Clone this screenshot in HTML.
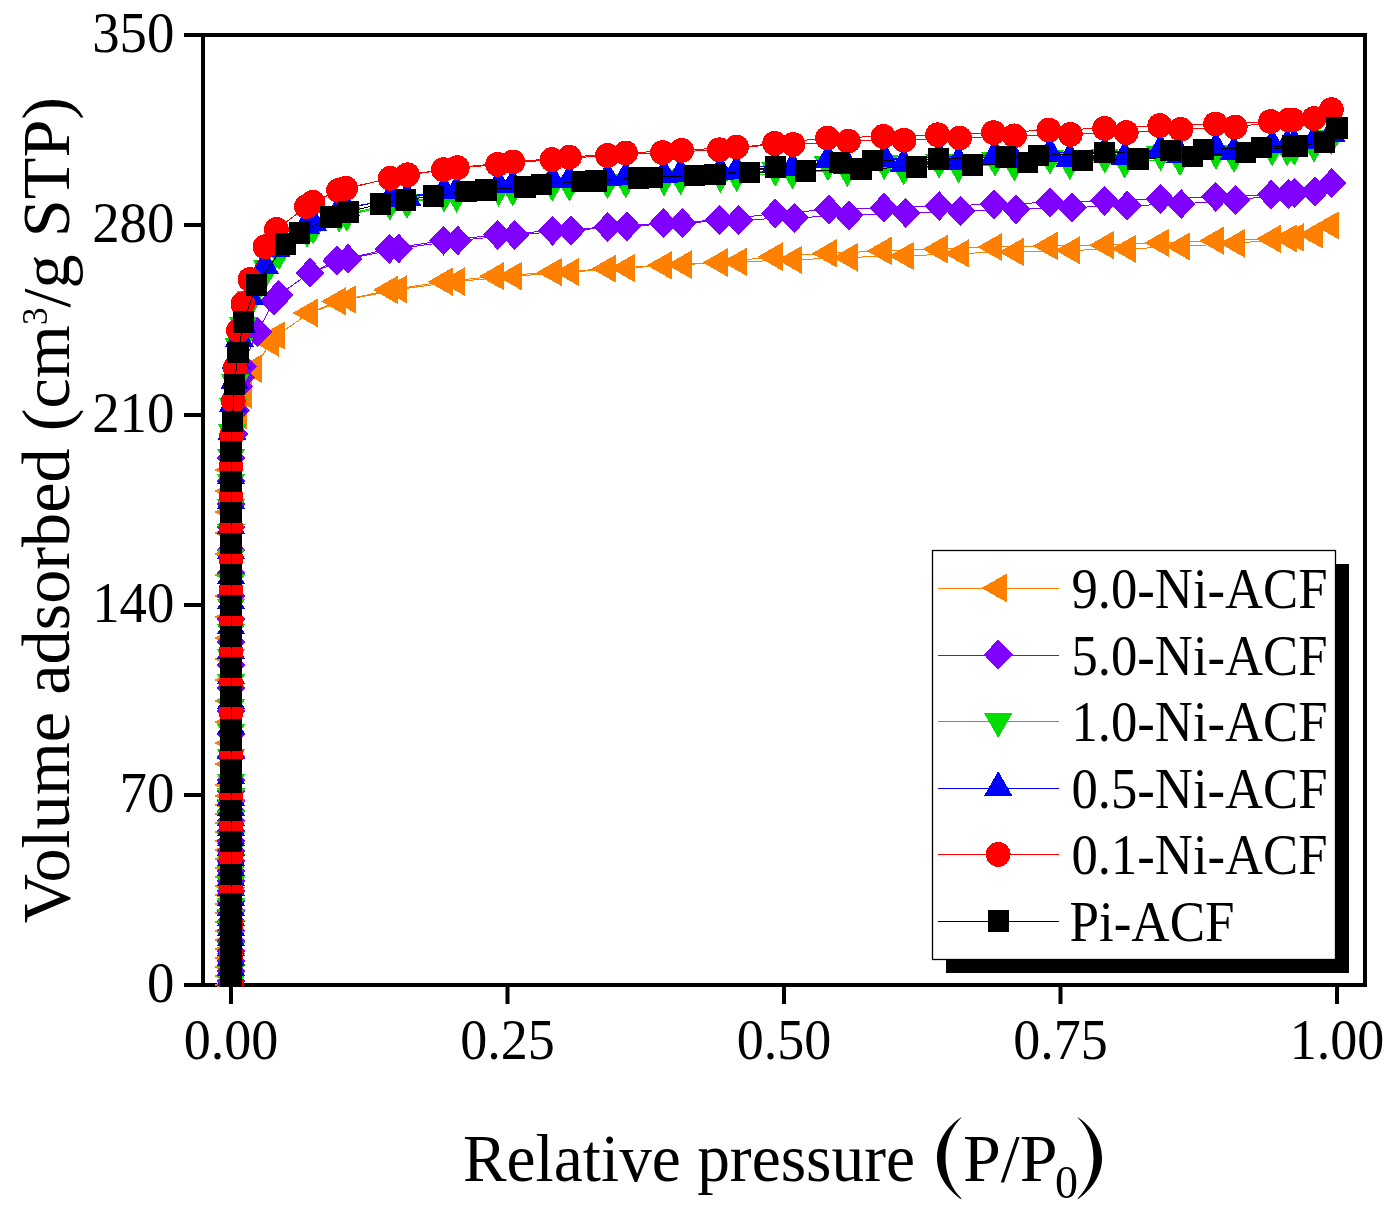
<!DOCTYPE html><html><head><meta charset="utf-8"><title>N2 isotherm</title><style>html,body{margin:0;padding:0;background:#fff;width:1395px;height:1217px;overflow:hidden}text{font-family:"Liberation Serif",serif}</style></head><body><svg width="1395" height="1217" viewBox="0 0 1395 1217" style="display:block;will-change:transform">
<rect width="1395" height="1217" fill="#fff"/>
<g fill="#000">
<rect x="201" y="33" width="4" height="954"/>
<rect x="1363" y="33" width="4" height="954"/>
<rect x="201" y="33" width="1166" height="4"/>
<rect x="201" y="983" width="1166" height="4"/>
<rect x="184" y="983" width="17" height="4"/>
<rect x="184" y="793" width="17" height="4"/>
<rect x="184" y="603" width="17" height="4"/>
<rect x="184" y="413" width="17" height="4"/>
<rect x="184" y="223" width="17" height="4"/>
<rect x="184" y="33" width="17" height="4"/>
<rect x="229.0" y="987" width="4" height="17"/>
<rect x="505.5" y="987" width="4" height="17"/>
<rect x="782.0" y="987" width="4" height="17"/>
<rect x="1058.5" y="987" width="4" height="17"/>
<rect x="1335.0" y="987" width="4" height="17"/>
</g>
<defs><clipPath id="pc"><rect x="203" y="35" width="1162" height="952"/></clipPath></defs>
<g shape-rendering="crispEdges" clip-path="url(#pc)">
<path d="M231.0 985.0L231.0 976.0L231.0 967.0L231.0 958.0L231.0 949.0L231.0 940.0L231.0 931.0L231.0 922.0L231.0 913.0L231.0 904.0L231.0 895.0L231.0 886.0L231.0 877.0L231.0 868.0L231.0 859.0L231.0 850.0L231.0 841.0L231.0 832.0L231.0 823.0L231.0 814.0L231.0 805.0L231.0 796.0L231.0 785.0L231.0 764.0L231.0 743.0L231.0 722.0L231.0 701.0L231.0 680.0L231.0 659.0L231.0 638.0L231.0 617.0L231.0 596.0L231.0 575.0L231.0 554.0L231.0 533.0L231.0 512.0L231.0 491.0L231.0 470.0L238.7 415.3L243.7 394.6L253.5 368.7L270.9 342.7L276.8 335.5L309.2 313.0L337.8 301.4L389.6 289.9L444.6 281.6L495.8 276.2L553.6 272.2L608.0 268.7L663.5 265.3L719.4 262.5L774.3 256.7L828.5 253.4L883.3 250.9L939.2 249.1L994.0 247.0L1049.3 245.9L1105.7 245.1L1160.8 242.9L1215.9 240.7L1272.7 238.8L1295.7 237.4L1314.8 234.6L1330.8 225.4" fill="none" stroke="#FF8000" stroke-width="1"/>
<path d="M309.2 313.0L347.8 299.5L398.8 289.4L456.4 281.6L513.4 276.2L570.8 272.0L626.7 268.0L683.3 264.6L738.6 261.8L794.0 259.9L849.3 257.3L905.7 256.0L960.7 253.4L1015.5 251.9L1071.9 250.3L1127.9 248.9L1181.9 246.4L1236.3 243.3L1288.8 238.4L1295.7 237.4" fill="none" stroke="#FF8000" stroke-width="1"/>
<path d="M214.3 985.0L239.3 970.8L239.3 999.2Z" fill="#FF8000"/>
<path d="M214.3 976.0L239.3 961.8L239.3 990.2Z" fill="#FF8000"/>
<path d="M214.3 967.0L239.3 952.8L239.3 981.2Z" fill="#FF8000"/>
<path d="M214.3 958.0L239.3 943.8L239.3 972.2Z" fill="#FF8000"/>
<path d="M214.3 949.0L239.3 934.8L239.3 963.2Z" fill="#FF8000"/>
<path d="M214.3 940.0L239.3 925.8L239.3 954.2Z" fill="#FF8000"/>
<path d="M214.3 931.0L239.3 916.8L239.3 945.2Z" fill="#FF8000"/>
<path d="M214.3 922.0L239.3 907.8L239.3 936.2Z" fill="#FF8000"/>
<path d="M214.3 913.0L239.3 898.8L239.3 927.2Z" fill="#FF8000"/>
<path d="M214.3 904.0L239.3 889.8L239.3 918.2Z" fill="#FF8000"/>
<path d="M214.3 895.0L239.3 880.8L239.3 909.2Z" fill="#FF8000"/>
<path d="M214.3 886.0L239.3 871.8L239.3 900.2Z" fill="#FF8000"/>
<path d="M214.3 877.0L239.3 862.8L239.3 891.2Z" fill="#FF8000"/>
<path d="M214.3 868.0L239.3 853.8L239.3 882.2Z" fill="#FF8000"/>
<path d="M214.3 859.0L239.3 844.8L239.3 873.2Z" fill="#FF8000"/>
<path d="M214.3 850.0L239.3 835.8L239.3 864.2Z" fill="#FF8000"/>
<path d="M214.3 841.0L239.3 826.8L239.3 855.2Z" fill="#FF8000"/>
<path d="M214.3 832.0L239.3 817.8L239.3 846.2Z" fill="#FF8000"/>
<path d="M214.3 823.0L239.3 808.8L239.3 837.2Z" fill="#FF8000"/>
<path d="M214.3 814.0L239.3 799.8L239.3 828.2Z" fill="#FF8000"/>
<path d="M214.3 805.0L239.3 790.8L239.3 819.2Z" fill="#FF8000"/>
<path d="M214.3 796.0L239.3 781.8L239.3 810.2Z" fill="#FF8000"/>
<path d="M214.3 785.0L239.3 770.8L239.3 799.2Z" fill="#FF8000"/>
<path d="M214.3 764.0L239.3 749.8L239.3 778.2Z" fill="#FF8000"/>
<path d="M214.3 743.0L239.3 728.8L239.3 757.2Z" fill="#FF8000"/>
<path d="M214.3 722.0L239.3 707.8L239.3 736.2Z" fill="#FF8000"/>
<path d="M214.3 701.0L239.3 686.8L239.3 715.2Z" fill="#FF8000"/>
<path d="M214.3 680.0L239.3 665.8L239.3 694.2Z" fill="#FF8000"/>
<path d="M214.3 659.0L239.3 644.8L239.3 673.2Z" fill="#FF8000"/>
<path d="M214.3 638.0L239.3 623.8L239.3 652.2Z" fill="#FF8000"/>
<path d="M214.3 617.0L239.3 602.8L239.3 631.2Z" fill="#FF8000"/>
<path d="M214.3 596.0L239.3 581.8L239.3 610.2Z" fill="#FF8000"/>
<path d="M214.3 575.0L239.3 560.8L239.3 589.2Z" fill="#FF8000"/>
<path d="M214.3 554.0L239.3 539.8L239.3 568.2Z" fill="#FF8000"/>
<path d="M214.3 533.0L239.3 518.8L239.3 547.2Z" fill="#FF8000"/>
<path d="M214.3 512.0L239.3 497.8L239.3 526.2Z" fill="#FF8000"/>
<path d="M214.3 491.0L239.3 476.8L239.3 505.2Z" fill="#FF8000"/>
<path d="M214.3 470.0L239.3 455.8L239.3 484.2Z" fill="#FF8000"/>
<path d="M222.0 415.3L247.0 401.1L247.0 429.6Z" fill="#FF8000"/>
<path d="M227.0 394.6L252.0 380.4L252.0 408.9Z" fill="#FF8000"/>
<path d="M236.8 368.7L261.8 354.4L261.8 382.9Z" fill="#FF8000"/>
<path d="M254.2 342.7L279.2 328.4L279.2 356.9Z" fill="#FF8000"/>
<path d="M260.1 335.5L285.1 321.2L285.1 349.8Z" fill="#FF8000"/>
<path d="M292.5 313.0L317.5 298.8L317.5 327.2Z" fill="#FF8000"/>
<path d="M321.1 301.4L346.1 287.1L346.1 315.6Z" fill="#FF8000"/>
<path d="M331.1 299.5L356.1 285.2L356.1 313.8Z" fill="#FF8000"/>
<path d="M372.9 289.9L397.9 275.6L397.9 304.1Z" fill="#FF8000"/>
<path d="M382.1 289.4L407.1 275.1L407.1 303.6Z" fill="#FF8000"/>
<path d="M427.9 281.6L452.9 267.4L452.9 295.9Z" fill="#FF8000"/>
<path d="M439.7 281.6L464.7 267.4L464.7 295.9Z" fill="#FF8000"/>
<path d="M479.1 276.2L504.1 261.9L504.1 290.4Z" fill="#FF8000"/>
<path d="M496.7 276.2L521.7 261.9L521.7 290.4Z" fill="#FF8000"/>
<path d="M536.9 272.2L561.9 257.9L561.9 286.4Z" fill="#FF8000"/>
<path d="M554.1 272.0L579.1 257.8L579.1 286.2Z" fill="#FF8000"/>
<path d="M591.3 268.7L616.3 254.4L616.3 282.9Z" fill="#FF8000"/>
<path d="M610.0 268.0L635.0 253.8L635.0 282.2Z" fill="#FF8000"/>
<path d="M646.8 265.3L671.8 251.1L671.8 279.6Z" fill="#FF8000"/>
<path d="M666.6 264.6L691.6 250.4L691.6 278.9Z" fill="#FF8000"/>
<path d="M702.7 262.5L727.7 248.2L727.7 276.8Z" fill="#FF8000"/>
<path d="M721.9 261.8L746.9 247.6L746.9 276.1Z" fill="#FF8000"/>
<path d="M757.6 256.7L782.6 242.4L782.6 270.9Z" fill="#FF8000"/>
<path d="M777.3 259.9L802.3 245.6L802.3 274.1Z" fill="#FF8000"/>
<path d="M811.8 253.4L836.8 239.2L836.8 267.6Z" fill="#FF8000"/>
<path d="M832.6 257.3L857.6 243.1L857.6 271.6Z" fill="#FF8000"/>
<path d="M866.6 250.9L891.6 236.7L891.6 265.1Z" fill="#FF8000"/>
<path d="M889.0 256.0L914.0 241.8L914.0 270.2Z" fill="#FF8000"/>
<path d="M922.5 249.1L947.5 234.8L947.5 263.4Z" fill="#FF8000"/>
<path d="M944.0 253.4L969.0 239.2L969.0 267.6Z" fill="#FF8000"/>
<path d="M977.3 247.0L1002.3 232.8L1002.3 261.2Z" fill="#FF8000"/>
<path d="M998.8 251.9L1023.8 237.7L1023.8 266.1Z" fill="#FF8000"/>
<path d="M1032.6 245.9L1057.6 231.7L1057.6 260.1Z" fill="#FF8000"/>
<path d="M1055.2 250.3L1080.2 236.1L1080.2 264.6Z" fill="#FF8000"/>
<path d="M1089.0 245.1L1114.0 230.8L1114.0 259.4Z" fill="#FF8000"/>
<path d="M1111.2 248.9L1136.2 234.7L1136.2 263.1Z" fill="#FF8000"/>
<path d="M1144.1 242.9L1169.1 228.7L1169.1 257.1Z" fill="#FF8000"/>
<path d="M1165.2 246.4L1190.2 232.2L1190.2 260.6Z" fill="#FF8000"/>
<path d="M1199.2 240.7L1224.2 226.4L1224.2 254.9Z" fill="#FF8000"/>
<path d="M1219.6 243.3L1244.6 229.1L1244.6 257.6Z" fill="#FF8000"/>
<path d="M1256.0 238.8L1281.0 224.6L1281.0 253.1Z" fill="#FF8000"/>
<path d="M1272.1 238.4L1297.1 224.2L1297.1 252.7Z" fill="#FF8000"/>
<path d="M1279.0 237.4L1304.0 223.2L1304.0 251.7Z" fill="#FF8000"/>
<path d="M1298.1 234.6L1323.1 220.3L1323.1 248.8Z" fill="#FF8000"/>
<path d="M1314.1 225.4L1339.1 211.2L1339.1 239.7Z" fill="#FF8000"/>
<path d="M231.0 981.0L231.0 971.0L231.0 961.0L231.0 951.0L231.0 941.0L231.0 931.0L231.0 921.0L231.0 911.0L231.0 901.0L231.0 891.0L231.0 881.0L231.0 871.0L231.0 861.0L231.0 851.0L231.0 841.0L231.0 831.0L231.0 821.0L231.0 811.0L231.0 801.0L231.0 791.0L231.0 780.0L231.0 757.0L231.0 734.0L231.0 711.0L231.0 688.0L231.0 665.0L231.0 642.0L231.0 619.0L231.0 596.0L231.0 573.0L231.0 550.0L231.0 527.0L231.0 504.0L231.0 481.0L231.0 458.0L233.5 434.0L235.5 410.4L238.4 386.7L240.4 377.3L242.4 366.5L257.5 332.0L274.0 300.7L278.9 294.9L310.0 272.8L336.9 260.7L389.2 248.9L443.5 240.5L497.7 234.8L552.5 230.6L607.8 227.0L663.4 223.2L719.4 220.0L775.3 213.5L828.8 209.6L884.0 207.8L939.1 206.0L994.0 204.3L1049.9 202.4L1104.5 200.7L1160.3 198.9L1215.6 196.7L1271.3 194.6L1294.7 193.1L1315.0 191.4L1331.7 183.2" fill="none" stroke="#8000FF" stroke-width="1"/>
<path d="M310.0 272.8L348.0 258.9L398.6 248.5L457.6 240.5L514.8 235.0L571.0 230.4L626.8 226.4L682.3 223.0L738.7 220.0L794.4 217.8L849.0 215.4L905.8 212.9L960.6 211.0L1016.0 209.2L1072.0 207.5L1127.2 205.7L1181.1 204.0L1235.6 200.0L1288.7 194.0L1294.7 193.1" fill="none" stroke="#8000FF" stroke-width="1"/>
<path d="M231.0 966.0L245.5 981.0L231.0 996.0L216.5 981.0Z" fill="#8000FF"/>
<path d="M231.0 956.0L245.5 971.0L231.0 986.0L216.5 971.0Z" fill="#8000FF"/>
<path d="M231.0 946.0L245.5 961.0L231.0 976.0L216.5 961.0Z" fill="#8000FF"/>
<path d="M231.0 936.0L245.5 951.0L231.0 966.0L216.5 951.0Z" fill="#8000FF"/>
<path d="M231.0 926.0L245.5 941.0L231.0 956.0L216.5 941.0Z" fill="#8000FF"/>
<path d="M231.0 916.0L245.5 931.0L231.0 946.0L216.5 931.0Z" fill="#8000FF"/>
<path d="M231.0 906.0L245.5 921.0L231.0 936.0L216.5 921.0Z" fill="#8000FF"/>
<path d="M231.0 896.0L245.5 911.0L231.0 926.0L216.5 911.0Z" fill="#8000FF"/>
<path d="M231.0 886.0L245.5 901.0L231.0 916.0L216.5 901.0Z" fill="#8000FF"/>
<path d="M231.0 876.0L245.5 891.0L231.0 906.0L216.5 891.0Z" fill="#8000FF"/>
<path d="M231.0 866.0L245.5 881.0L231.0 896.0L216.5 881.0Z" fill="#8000FF"/>
<path d="M231.0 856.0L245.5 871.0L231.0 886.0L216.5 871.0Z" fill="#8000FF"/>
<path d="M231.0 846.0L245.5 861.0L231.0 876.0L216.5 861.0Z" fill="#8000FF"/>
<path d="M231.0 836.0L245.5 851.0L231.0 866.0L216.5 851.0Z" fill="#8000FF"/>
<path d="M231.0 826.0L245.5 841.0L231.0 856.0L216.5 841.0Z" fill="#8000FF"/>
<path d="M231.0 816.0L245.5 831.0L231.0 846.0L216.5 831.0Z" fill="#8000FF"/>
<path d="M231.0 806.0L245.5 821.0L231.0 836.0L216.5 821.0Z" fill="#8000FF"/>
<path d="M231.0 796.0L245.5 811.0L231.0 826.0L216.5 811.0Z" fill="#8000FF"/>
<path d="M231.0 786.0L245.5 801.0L231.0 816.0L216.5 801.0Z" fill="#8000FF"/>
<path d="M231.0 776.0L245.5 791.0L231.0 806.0L216.5 791.0Z" fill="#8000FF"/>
<path d="M231.0 765.0L245.5 780.0L231.0 795.0L216.5 780.0Z" fill="#8000FF"/>
<path d="M231.0 742.0L245.5 757.0L231.0 772.0L216.5 757.0Z" fill="#8000FF"/>
<path d="M231.0 719.0L245.5 734.0L231.0 749.0L216.5 734.0Z" fill="#8000FF"/>
<path d="M231.0 696.0L245.5 711.0L231.0 726.0L216.5 711.0Z" fill="#8000FF"/>
<path d="M231.0 673.0L245.5 688.0L231.0 703.0L216.5 688.0Z" fill="#8000FF"/>
<path d="M231.0 650.0L245.5 665.0L231.0 680.0L216.5 665.0Z" fill="#8000FF"/>
<path d="M231.0 627.0L245.5 642.0L231.0 657.0L216.5 642.0Z" fill="#8000FF"/>
<path d="M231.0 604.0L245.5 619.0L231.0 634.0L216.5 619.0Z" fill="#8000FF"/>
<path d="M231.0 581.0L245.5 596.0L231.0 611.0L216.5 596.0Z" fill="#8000FF"/>
<path d="M231.0 558.0L245.5 573.0L231.0 588.0L216.5 573.0Z" fill="#8000FF"/>
<path d="M231.0 535.0L245.5 550.0L231.0 565.0L216.5 550.0Z" fill="#8000FF"/>
<path d="M231.0 512.0L245.5 527.0L231.0 542.0L216.5 527.0Z" fill="#8000FF"/>
<path d="M231.0 489.0L245.5 504.0L231.0 519.0L216.5 504.0Z" fill="#8000FF"/>
<path d="M231.0 466.0L245.5 481.0L231.0 496.0L216.5 481.0Z" fill="#8000FF"/>
<path d="M231.0 443.0L245.5 458.0L231.0 473.0L216.5 458.0Z" fill="#8000FF"/>
<path d="M233.5 419.0L248.0 434.0L233.5 449.0L219.0 434.0Z" fill="#8000FF"/>
<path d="M235.5 395.4L250.0 410.4L235.5 425.4L221.0 410.4Z" fill="#8000FF"/>
<path d="M238.4 371.7L252.9 386.7L238.4 401.7L223.9 386.7Z" fill="#8000FF"/>
<path d="M240.4 362.3L254.9 377.3L240.4 392.3L225.9 377.3Z" fill="#8000FF"/>
<path d="M242.4 351.5L256.9 366.5L242.4 381.5L227.9 366.5Z" fill="#8000FF"/>
<path d="M257.5 317.0L272.0 332.0L257.5 347.0L243.0 332.0Z" fill="#8000FF"/>
<path d="M274.0 285.7L288.5 300.7L274.0 315.7L259.5 300.7Z" fill="#8000FF"/>
<path d="M278.9 279.9L293.4 294.9L278.9 309.9L264.4 294.9Z" fill="#8000FF"/>
<path d="M310.0 257.8L324.5 272.8L310.0 287.8L295.5 272.8Z" fill="#8000FF"/>
<path d="M336.9 245.7L351.4 260.7L336.9 275.7L322.4 260.7Z" fill="#8000FF"/>
<path d="M348.0 243.9L362.5 258.9L348.0 273.9L333.5 258.9Z" fill="#8000FF"/>
<path d="M389.2 233.9L403.7 248.9L389.2 263.9L374.7 248.9Z" fill="#8000FF"/>
<path d="M398.6 233.5L413.1 248.5L398.6 263.5L384.1 248.5Z" fill="#8000FF"/>
<path d="M443.5 225.5L458.0 240.5L443.5 255.5L429.0 240.5Z" fill="#8000FF"/>
<path d="M457.6 225.5L472.1 240.5L457.6 255.5L443.1 240.5Z" fill="#8000FF"/>
<path d="M497.7 219.8L512.2 234.8L497.7 249.8L483.2 234.8Z" fill="#8000FF"/>
<path d="M514.8 220.0L529.3 235.0L514.8 250.0L500.3 235.0Z" fill="#8000FF"/>
<path d="M552.5 215.6L567.0 230.6L552.5 245.6L538.0 230.6Z" fill="#8000FF"/>
<path d="M571.0 215.4L585.5 230.4L571.0 245.4L556.5 230.4Z" fill="#8000FF"/>
<path d="M607.8 212.0L622.3 227.0L607.8 242.0L593.3 227.0Z" fill="#8000FF"/>
<path d="M626.8 211.4L641.3 226.4L626.8 241.4L612.3 226.4Z" fill="#8000FF"/>
<path d="M663.4 208.2L677.9 223.2L663.4 238.2L648.9 223.2Z" fill="#8000FF"/>
<path d="M682.3 208.0L696.8 223.0L682.3 238.0L667.8 223.0Z" fill="#8000FF"/>
<path d="M719.4 205.0L733.9 220.0L719.4 235.0L704.9 220.0Z" fill="#8000FF"/>
<path d="M738.7 205.0L753.2 220.0L738.7 235.0L724.2 220.0Z" fill="#8000FF"/>
<path d="M775.3 198.5L789.8 213.5L775.3 228.5L760.8 213.5Z" fill="#8000FF"/>
<path d="M794.4 202.8L808.9 217.8L794.4 232.8L779.9 217.8Z" fill="#8000FF"/>
<path d="M828.8 194.6L843.3 209.6L828.8 224.6L814.3 209.6Z" fill="#8000FF"/>
<path d="M849.0 200.4L863.5 215.4L849.0 230.4L834.5 215.4Z" fill="#8000FF"/>
<path d="M884.0 192.8L898.5 207.8L884.0 222.8L869.5 207.8Z" fill="#8000FF"/>
<path d="M905.8 197.9L920.3 212.9L905.8 227.9L891.3 212.9Z" fill="#8000FF"/>
<path d="M939.1 191.0L953.6 206.0L939.1 221.0L924.6 206.0Z" fill="#8000FF"/>
<path d="M960.6 196.0L975.1 211.0L960.6 226.0L946.1 211.0Z" fill="#8000FF"/>
<path d="M994.0 189.3L1008.5 204.3L994.0 219.3L979.5 204.3Z" fill="#8000FF"/>
<path d="M1016.0 194.2L1030.5 209.2L1016.0 224.2L1001.5 209.2Z" fill="#8000FF"/>
<path d="M1049.9 187.4L1064.4 202.4L1049.9 217.4L1035.4 202.4Z" fill="#8000FF"/>
<path d="M1072.0 192.5L1086.5 207.5L1072.0 222.5L1057.5 207.5Z" fill="#8000FF"/>
<path d="M1104.5 185.7L1119.0 200.7L1104.5 215.7L1090.0 200.7Z" fill="#8000FF"/>
<path d="M1127.2 190.7L1141.7 205.7L1127.2 220.7L1112.7 205.7Z" fill="#8000FF"/>
<path d="M1160.3 183.9L1174.8 198.9L1160.3 213.9L1145.8 198.9Z" fill="#8000FF"/>
<path d="M1181.1 189.0L1195.6 204.0L1181.1 219.0L1166.6 204.0Z" fill="#8000FF"/>
<path d="M1215.6 181.7L1230.1 196.7L1215.6 211.7L1201.1 196.7Z" fill="#8000FF"/>
<path d="M1235.6 185.0L1250.1 200.0L1235.6 215.0L1221.1 200.0Z" fill="#8000FF"/>
<path d="M1271.3 179.6L1285.8 194.6L1271.3 209.6L1256.8 194.6Z" fill="#8000FF"/>
<path d="M1288.7 179.0L1303.2 194.0L1288.7 209.0L1274.2 194.0Z" fill="#8000FF"/>
<path d="M1294.7 178.1L1309.2 193.1L1294.7 208.1L1280.2 193.1Z" fill="#8000FF"/>
<path d="M1315.0 176.4L1329.5 191.4L1315.0 206.4L1300.5 191.4Z" fill="#8000FF"/>
<path d="M1331.7 168.2L1346.2 183.2L1331.7 198.2L1317.2 183.2Z" fill="#8000FF"/>
<path d="M231.0 983.0L231.0 972.0L231.0 961.0L231.0 950.0L231.0 939.0L231.0 928.0L231.0 917.0L231.0 906.0L231.0 895.0L231.0 884.0L231.0 873.0L231.0 862.0L231.0 851.0L231.0 840.0L231.0 829.0L231.0 818.0L231.0 807.0L231.0 796.0L231.0 782.0L231.0 757.0L231.0 732.0L231.0 707.0L231.0 682.0L231.0 657.0L231.0 632.0L231.0 607.0L231.0 582.0L231.0 557.0L231.0 532.0L231.0 507.0L231.0 482.0L231.0 457.0L232.0 432.5L233.2 406.3L235.2 382.7L238.8 346.7L243.0 325.3L246.0 310.0L250.8 299.3L260.0 282.3L267.0 268.3L279.1 253.4L307.0 231.2L313.2 227.9L339.2 216.1L389.9 204.0L444.0 196.0L498.5 189.9L552.3 185.0L607.5 182.5L664.0 179.7L720.4 176.5L775.3 170.0L828.0 164.6L884.3 163.4L939.1 161.9L995.0 160.2L1049.9 158.0L1104.8 156.9L1160.6 154.6L1215.9 153.1L1272.2 149.8L1294.3 149.0L1314.0 145.8L1331.4 138.7" fill="none" stroke="#00DD00" stroke-width="1"/>
<path d="M313.2 227.9L346.7 215.1L407.0 202.3L456.5 196.0L512.8 189.9L569.4 185.0L625.8 181.8L680.6 178.6L736.6 175.4L792.5 172.8L847.3 170.4L903.7 168.8L958.5 166.6L1014.4 164.9L1069.7 163.4L1124.7 161.9L1180.0 159.5L1234.0 156.3L1287.2 149.8L1294.3 149.0" fill="none" stroke="#00DD00" stroke-width="1"/>
<path d="M216.8 974.7L245.2 974.7L231.0 999.7Z" fill="#00DD00"/>
<path d="M216.8 963.7L245.2 963.7L231.0 988.7Z" fill="#00DD00"/>
<path d="M216.8 952.7L245.2 952.7L231.0 977.7Z" fill="#00DD00"/>
<path d="M216.8 941.7L245.2 941.7L231.0 966.7Z" fill="#00DD00"/>
<path d="M216.8 930.7L245.2 930.7L231.0 955.7Z" fill="#00DD00"/>
<path d="M216.8 919.7L245.2 919.7L231.0 944.7Z" fill="#00DD00"/>
<path d="M216.8 908.7L245.2 908.7L231.0 933.7Z" fill="#00DD00"/>
<path d="M216.8 897.7L245.2 897.7L231.0 922.7Z" fill="#00DD00"/>
<path d="M216.8 886.7L245.2 886.7L231.0 911.7Z" fill="#00DD00"/>
<path d="M216.8 875.7L245.2 875.7L231.0 900.7Z" fill="#00DD00"/>
<path d="M216.8 864.7L245.2 864.7L231.0 889.7Z" fill="#00DD00"/>
<path d="M216.8 853.7L245.2 853.7L231.0 878.7Z" fill="#00DD00"/>
<path d="M216.8 842.7L245.2 842.7L231.0 867.7Z" fill="#00DD00"/>
<path d="M216.8 831.7L245.2 831.7L231.0 856.7Z" fill="#00DD00"/>
<path d="M216.8 820.7L245.2 820.7L231.0 845.7Z" fill="#00DD00"/>
<path d="M216.8 809.7L245.2 809.7L231.0 834.7Z" fill="#00DD00"/>
<path d="M216.8 798.7L245.2 798.7L231.0 823.7Z" fill="#00DD00"/>
<path d="M216.8 787.7L245.2 787.7L231.0 812.7Z" fill="#00DD00"/>
<path d="M216.8 773.7L245.2 773.7L231.0 798.7Z" fill="#00DD00"/>
<path d="M216.8 748.7L245.2 748.7L231.0 773.7Z" fill="#00DD00"/>
<path d="M216.8 723.7L245.2 723.7L231.0 748.7Z" fill="#00DD00"/>
<path d="M216.8 698.7L245.2 698.7L231.0 723.7Z" fill="#00DD00"/>
<path d="M216.8 673.7L245.2 673.7L231.0 698.7Z" fill="#00DD00"/>
<path d="M216.8 648.7L245.2 648.7L231.0 673.7Z" fill="#00DD00"/>
<path d="M216.8 623.7L245.2 623.7L231.0 648.7Z" fill="#00DD00"/>
<path d="M216.8 598.7L245.2 598.7L231.0 623.7Z" fill="#00DD00"/>
<path d="M216.8 573.7L245.2 573.7L231.0 598.7Z" fill="#00DD00"/>
<path d="M216.8 548.7L245.2 548.7L231.0 573.7Z" fill="#00DD00"/>
<path d="M216.8 523.7L245.2 523.7L231.0 548.7Z" fill="#00DD00"/>
<path d="M216.8 498.7L245.2 498.7L231.0 523.7Z" fill="#00DD00"/>
<path d="M216.8 473.7L245.2 473.7L231.0 498.7Z" fill="#00DD00"/>
<path d="M216.8 448.7L245.2 448.7L231.0 473.7Z" fill="#00DD00"/>
<path d="M217.8 424.2L246.2 424.2L232.0 449.2Z" fill="#00DD00"/>
<path d="M218.9 398.0L247.4 398.0L233.2 423.0Z" fill="#00DD00"/>
<path d="M220.9 374.4L249.4 374.4L235.2 399.4Z" fill="#00DD00"/>
<path d="M224.6 338.4L253.1 338.4L238.8 363.4Z" fill="#00DD00"/>
<path d="M228.8 317.0L257.2 317.0L243.0 342.0Z" fill="#00DD00"/>
<path d="M231.8 301.7L260.2 301.7L246.0 326.7Z" fill="#00DD00"/>
<path d="M236.6 291.0L265.1 291.0L250.8 316.0Z" fill="#00DD00"/>
<path d="M245.8 274.0L274.2 274.0L260.0 299.0Z" fill="#00DD00"/>
<path d="M252.8 260.0L281.2 260.0L267.0 285.0Z" fill="#00DD00"/>
<path d="M264.9 245.1L293.4 245.1L279.1 270.1Z" fill="#00DD00"/>
<path d="M292.8 222.9L321.2 222.9L307.0 247.9Z" fill="#00DD00"/>
<path d="M298.9 219.6L327.4 219.6L313.2 244.6Z" fill="#00DD00"/>
<path d="M324.9 207.8L353.4 207.8L339.2 232.8Z" fill="#00DD00"/>
<path d="M332.4 206.8L360.9 206.8L346.7 231.8Z" fill="#00DD00"/>
<path d="M375.6 195.7L404.1 195.7L389.9 220.7Z" fill="#00DD00"/>
<path d="M392.8 194.0L421.2 194.0L407.0 219.0Z" fill="#00DD00"/>
<path d="M429.8 187.7L458.2 187.7L444.0 212.7Z" fill="#00DD00"/>
<path d="M442.2 187.7L470.8 187.7L456.5 212.7Z" fill="#00DD00"/>
<path d="M484.2 181.6L512.8 181.6L498.5 206.6Z" fill="#00DD00"/>
<path d="M498.5 181.6L527.0 181.6L512.8 206.6Z" fill="#00DD00"/>
<path d="M538.0 176.7L566.5 176.7L552.3 201.7Z" fill="#00DD00"/>
<path d="M555.1 176.7L583.6 176.7L569.4 201.7Z" fill="#00DD00"/>
<path d="M593.2 174.2L621.8 174.2L607.5 199.2Z" fill="#00DD00"/>
<path d="M611.5 173.5L640.0 173.5L625.8 198.5Z" fill="#00DD00"/>
<path d="M649.8 171.4L678.2 171.4L664.0 196.4Z" fill="#00DD00"/>
<path d="M666.4 170.3L694.9 170.3L680.6 195.3Z" fill="#00DD00"/>
<path d="M706.1 168.2L734.6 168.2L720.4 193.2Z" fill="#00DD00"/>
<path d="M722.4 167.1L750.9 167.1L736.6 192.1Z" fill="#00DD00"/>
<path d="M761.0 161.7L789.5 161.7L775.3 186.7Z" fill="#00DD00"/>
<path d="M778.2 164.5L806.8 164.5L792.5 189.5Z" fill="#00DD00"/>
<path d="M813.8 156.3L842.2 156.3L828.0 181.3Z" fill="#00DD00"/>
<path d="M833.0 162.1L861.5 162.1L847.3 187.1Z" fill="#00DD00"/>
<path d="M870.0 155.1L898.5 155.1L884.3 180.1Z" fill="#00DD00"/>
<path d="M889.5 160.5L918.0 160.5L903.7 185.5Z" fill="#00DD00"/>
<path d="M924.9 153.6L953.4 153.6L939.1 178.6Z" fill="#00DD00"/>
<path d="M944.2 158.3L972.8 158.3L958.5 183.3Z" fill="#00DD00"/>
<path d="M980.8 151.9L1009.2 151.9L995.0 176.9Z" fill="#00DD00"/>
<path d="M1000.1 156.6L1028.7 156.6L1014.4 181.6Z" fill="#00DD00"/>
<path d="M1035.7 149.7L1064.2 149.7L1049.9 174.7Z" fill="#00DD00"/>
<path d="M1055.5 155.1L1084.0 155.1L1069.7 180.1Z" fill="#00DD00"/>
<path d="M1090.5 148.6L1119.0 148.6L1104.8 173.6Z" fill="#00DD00"/>
<path d="M1110.5 153.6L1139.0 153.6L1124.7 178.6Z" fill="#00DD00"/>
<path d="M1146.3 146.3L1174.8 146.3L1160.6 171.3Z" fill="#00DD00"/>
<path d="M1165.8 151.2L1194.2 151.2L1180.0 176.2Z" fill="#00DD00"/>
<path d="M1201.7 144.8L1230.2 144.8L1215.9 169.8Z" fill="#00DD00"/>
<path d="M1219.8 148.0L1248.2 148.0L1234.0 173.0Z" fill="#00DD00"/>
<path d="M1258.0 141.5L1286.5 141.5L1272.2 166.5Z" fill="#00DD00"/>
<path d="M1273.0 141.5L1301.5 141.5L1287.2 166.5Z" fill="#00DD00"/>
<path d="M1280.0 140.7L1308.5 140.7L1294.3 165.7Z" fill="#00DD00"/>
<path d="M1299.8 137.5L1328.2 137.5L1314.0 162.5Z" fill="#00DD00"/>
<path d="M1317.2 130.4L1345.7 130.4L1331.4 155.4Z" fill="#00DD00"/>
<path d="M231.0 978.0L231.0 968.0L231.0 958.0L231.0 948.0L231.0 938.0L231.0 928.0L231.0 918.0L231.0 908.0L231.0 898.0L231.0 888.0L231.0 878.0L231.0 868.0L231.0 858.0L231.0 848.0L231.0 838.0L231.0 828.0L231.0 818.0L231.0 808.0L231.0 798.0L231.0 776.0L231.0 751.0L231.0 726.0L231.0 701.0L231.0 676.0L231.0 651.0L231.0 626.0L231.0 601.0L231.0 576.0L231.0 551.0L231.0 526.0L231.0 501.0L231.0 476.0L232.0 431.2L233.0 403.6L234.5 380.9L236.0 360.2L239.3 338.3L242.0 324.5L250.0 297.0L264.7 265.5L276.6 249.0L306.0 225.5L313.0 222.5L339.0 210.5L389.9 199.0L444.0 191.0L498.5 184.9L552.3 180.0L607.5 177.5L664.0 174.7L720.4 171.5L775.3 165.0L828.0 159.6L884.3 158.4L939.1 156.9L995.0 155.2L1049.9 153.0L1104.8 151.9L1160.6 149.6L1215.9 148.1L1272.2 144.8L1294.3 144.0L1314.0 140.8L1331.4 133.7" fill="none" stroke="#0000FF" stroke-width="1"/>
<path d="M313.0 222.5L346.0 207.5L407.0 197.3L456.5 191.0L512.8 184.9L569.4 180.0L625.8 176.8L680.6 173.6L736.6 170.4L792.5 167.8L847.3 165.4L903.7 163.8L958.5 161.6L1014.4 159.9L1069.7 158.4L1124.7 156.9L1180.0 154.5L1234.0 151.3L1287.2 144.8L1294.3 144.0" fill="none" stroke="#0000FF" stroke-width="1"/>
<path d="M216.8 986.3L245.2 986.3L231.0 961.3Z" fill="#0000FF"/>
<path d="M216.8 976.3L245.2 976.3L231.0 951.3Z" fill="#0000FF"/>
<path d="M216.8 966.3L245.2 966.3L231.0 941.3Z" fill="#0000FF"/>
<path d="M216.8 956.3L245.2 956.3L231.0 931.3Z" fill="#0000FF"/>
<path d="M216.8 946.3L245.2 946.3L231.0 921.3Z" fill="#0000FF"/>
<path d="M216.8 936.3L245.2 936.3L231.0 911.3Z" fill="#0000FF"/>
<path d="M216.8 926.3L245.2 926.3L231.0 901.3Z" fill="#0000FF"/>
<path d="M216.8 916.3L245.2 916.3L231.0 891.3Z" fill="#0000FF"/>
<path d="M216.8 906.3L245.2 906.3L231.0 881.3Z" fill="#0000FF"/>
<path d="M216.8 896.3L245.2 896.3L231.0 871.3Z" fill="#0000FF"/>
<path d="M216.8 886.3L245.2 886.3L231.0 861.3Z" fill="#0000FF"/>
<path d="M216.8 876.3L245.2 876.3L231.0 851.3Z" fill="#0000FF"/>
<path d="M216.8 866.3L245.2 866.3L231.0 841.3Z" fill="#0000FF"/>
<path d="M216.8 856.3L245.2 856.3L231.0 831.3Z" fill="#0000FF"/>
<path d="M216.8 846.3L245.2 846.3L231.0 821.3Z" fill="#0000FF"/>
<path d="M216.8 836.3L245.2 836.3L231.0 811.3Z" fill="#0000FF"/>
<path d="M216.8 826.3L245.2 826.3L231.0 801.3Z" fill="#0000FF"/>
<path d="M216.8 816.3L245.2 816.3L231.0 791.3Z" fill="#0000FF"/>
<path d="M216.8 806.3L245.2 806.3L231.0 781.3Z" fill="#0000FF"/>
<path d="M216.8 784.3L245.2 784.3L231.0 759.3Z" fill="#0000FF"/>
<path d="M216.8 759.3L245.2 759.3L231.0 734.3Z" fill="#0000FF"/>
<path d="M216.8 734.3L245.2 734.3L231.0 709.3Z" fill="#0000FF"/>
<path d="M216.8 709.3L245.2 709.3L231.0 684.3Z" fill="#0000FF"/>
<path d="M216.8 684.3L245.2 684.3L231.0 659.3Z" fill="#0000FF"/>
<path d="M216.8 659.3L245.2 659.3L231.0 634.3Z" fill="#0000FF"/>
<path d="M216.8 634.3L245.2 634.3L231.0 609.3Z" fill="#0000FF"/>
<path d="M216.8 609.3L245.2 609.3L231.0 584.3Z" fill="#0000FF"/>
<path d="M216.8 584.3L245.2 584.3L231.0 559.3Z" fill="#0000FF"/>
<path d="M216.8 559.3L245.2 559.3L231.0 534.3Z" fill="#0000FF"/>
<path d="M216.8 534.3L245.2 534.3L231.0 509.3Z" fill="#0000FF"/>
<path d="M216.8 509.3L245.2 509.3L231.0 484.3Z" fill="#0000FF"/>
<path d="M216.8 484.3L245.2 484.3L231.0 459.3Z" fill="#0000FF"/>
<path d="M217.8 439.5L246.2 439.5L232.0 414.5Z" fill="#0000FF"/>
<path d="M218.8 411.9L247.2 411.9L233.0 386.9Z" fill="#0000FF"/>
<path d="M220.2 389.2L248.8 389.2L234.5 364.2Z" fill="#0000FF"/>
<path d="M221.8 368.5L250.2 368.5L236.0 343.5Z" fill="#0000FF"/>
<path d="M225.1 346.6L253.6 346.6L239.3 321.6Z" fill="#0000FF"/>
<path d="M227.8 332.8L256.2 332.8L242.0 307.8Z" fill="#0000FF"/>
<path d="M235.8 305.3L264.2 305.3L250.0 280.3Z" fill="#0000FF"/>
<path d="M250.4 273.8L278.9 273.8L264.7 248.8Z" fill="#0000FF"/>
<path d="M262.4 257.3L290.9 257.3L276.6 232.3Z" fill="#0000FF"/>
<path d="M291.8 233.8L320.2 233.8L306.0 208.8Z" fill="#0000FF"/>
<path d="M298.8 230.8L327.2 230.8L313.0 205.8Z" fill="#0000FF"/>
<path d="M324.8 218.8L353.2 218.8L339.0 193.8Z" fill="#0000FF"/>
<path d="M331.8 215.8L360.2 215.8L346.0 190.8Z" fill="#0000FF"/>
<path d="M375.6 207.3L404.1 207.3L389.9 182.3Z" fill="#0000FF"/>
<path d="M392.8 205.6L421.2 205.6L407.0 180.6Z" fill="#0000FF"/>
<path d="M429.8 199.3L458.2 199.3L444.0 174.3Z" fill="#0000FF"/>
<path d="M442.2 199.3L470.8 199.3L456.5 174.3Z" fill="#0000FF"/>
<path d="M484.2 193.2L512.8 193.2L498.5 168.2Z" fill="#0000FF"/>
<path d="M498.5 193.2L527.0 193.2L512.8 168.2Z" fill="#0000FF"/>
<path d="M538.0 188.3L566.5 188.3L552.3 163.3Z" fill="#0000FF"/>
<path d="M555.1 188.3L583.6 188.3L569.4 163.3Z" fill="#0000FF"/>
<path d="M593.2 185.8L621.8 185.8L607.5 160.8Z" fill="#0000FF"/>
<path d="M611.5 185.1L640.0 185.1L625.8 160.1Z" fill="#0000FF"/>
<path d="M649.8 183.0L678.2 183.0L664.0 158.0Z" fill="#0000FF"/>
<path d="M666.4 181.9L694.9 181.9L680.6 156.9Z" fill="#0000FF"/>
<path d="M706.1 179.8L734.6 179.8L720.4 154.8Z" fill="#0000FF"/>
<path d="M722.4 178.7L750.9 178.7L736.6 153.7Z" fill="#0000FF"/>
<path d="M761.0 173.3L789.5 173.3L775.3 148.3Z" fill="#0000FF"/>
<path d="M778.2 176.1L806.8 176.1L792.5 151.1Z" fill="#0000FF"/>
<path d="M813.8 167.9L842.2 167.9L828.0 142.9Z" fill="#0000FF"/>
<path d="M833.0 173.7L861.5 173.7L847.3 148.7Z" fill="#0000FF"/>
<path d="M870.0 166.7L898.5 166.7L884.3 141.7Z" fill="#0000FF"/>
<path d="M889.5 172.1L918.0 172.1L903.7 147.1Z" fill="#0000FF"/>
<path d="M924.9 165.2L953.4 165.2L939.1 140.2Z" fill="#0000FF"/>
<path d="M944.2 169.9L972.8 169.9L958.5 144.9Z" fill="#0000FF"/>
<path d="M980.8 163.5L1009.2 163.5L995.0 138.5Z" fill="#0000FF"/>
<path d="M1000.1 168.2L1028.7 168.2L1014.4 143.2Z" fill="#0000FF"/>
<path d="M1035.7 161.3L1064.2 161.3L1049.9 136.3Z" fill="#0000FF"/>
<path d="M1055.5 166.7L1084.0 166.7L1069.7 141.7Z" fill="#0000FF"/>
<path d="M1090.5 160.2L1119.0 160.2L1104.8 135.2Z" fill="#0000FF"/>
<path d="M1110.5 165.2L1139.0 165.2L1124.7 140.2Z" fill="#0000FF"/>
<path d="M1146.3 157.9L1174.8 157.9L1160.6 132.9Z" fill="#0000FF"/>
<path d="M1165.8 162.8L1194.2 162.8L1180.0 137.8Z" fill="#0000FF"/>
<path d="M1201.7 156.4L1230.2 156.4L1215.9 131.4Z" fill="#0000FF"/>
<path d="M1219.8 159.6L1248.2 159.6L1234.0 134.6Z" fill="#0000FF"/>
<path d="M1258.0 153.1L1286.5 153.1L1272.2 128.1Z" fill="#0000FF"/>
<path d="M1273.0 153.1L1301.5 153.1L1287.2 128.1Z" fill="#0000FF"/>
<path d="M1280.0 152.3L1308.5 152.3L1294.3 127.3Z" fill="#0000FF"/>
<path d="M1299.8 149.1L1328.2 149.1L1314.0 124.1Z" fill="#0000FF"/>
<path d="M1317.2 142.0L1345.7 142.0L1331.4 117.0Z" fill="#0000FF"/>
<path d="M231.0 985.0L231.0 955.0L231.0 925.0L231.0 889.3L231.0 857.0L231.0 826.0L231.0 796.4L231.0 755.0L231.0 712.0L231.0 683.3L231.0 652.2L231.0 621.0L231.0 590.0L231.0 558.9L231.0 527.8L231.0 496.7L231.0 466.7L231.7 435.5L233.2 401.0L235.2 368.0L238.5 330.5L242.9 303.8L249.9 279.5L265.0 246.7L276.5 229.5L306.4 206.5L312.8 202.2L338.5 190.4L390.2 178.3L443.3 169.6L497.7 164.4L552.0 159.6L607.5 155.4L662.4 152.6L719.4 149.8L774.6 143.3L827.5 138.0L883.2 136.4L937.6 134.8L993.5 132.6L1048.8 130.1L1104.7 128.3L1159.8 125.6L1215.5 123.9L1270.7 121.5L1292.7 120.0L1314.0 118.4L1331.4 109.7" fill="none" stroke="#FF0000" stroke-width="1"/>
<path d="M312.8 202.2L345.7 188.2L407.5 174.8L457.3 167.6L512.9 161.9L569.4 157.2L625.6 152.9L681.7 150.4L736.6 147.0L793.1 144.4L848.4 141.2L904.1 140.2L959.6 138.0L1014.4 135.9L1070.3 134.4L1126.2 132.6L1180.8 129.4L1235.2 127.1L1288.8 120.0L1292.7 120.0" fill="none" stroke="#FF0000" stroke-width="1"/>
<circle cx="231.0" cy="985.0" r="12.4" fill="#FF0000"/>
<circle cx="231.0" cy="955.0" r="12.4" fill="#FF0000"/>
<circle cx="231.0" cy="925.0" r="12.4" fill="#FF0000"/>
<circle cx="231.0" cy="889.3" r="12.4" fill="#FF0000"/>
<circle cx="231.0" cy="857.0" r="12.4" fill="#FF0000"/>
<circle cx="231.0" cy="826.0" r="12.4" fill="#FF0000"/>
<circle cx="231.0" cy="796.4" r="12.4" fill="#FF0000"/>
<circle cx="231.0" cy="755.0" r="12.4" fill="#FF0000"/>
<circle cx="231.0" cy="712.0" r="12.4" fill="#FF0000"/>
<circle cx="231.0" cy="683.3" r="12.4" fill="#FF0000"/>
<circle cx="231.0" cy="652.2" r="12.4" fill="#FF0000"/>
<circle cx="231.0" cy="621.0" r="12.4" fill="#FF0000"/>
<circle cx="231.0" cy="590.0" r="12.4" fill="#FF0000"/>
<circle cx="231.0" cy="558.9" r="12.4" fill="#FF0000"/>
<circle cx="231.0" cy="527.8" r="12.4" fill="#FF0000"/>
<circle cx="231.0" cy="496.7" r="12.4" fill="#FF0000"/>
<circle cx="231.0" cy="466.7" r="12.4" fill="#FF0000"/>
<circle cx="231.7" cy="435.5" r="12.4" fill="#FF0000"/>
<circle cx="233.2" cy="401.0" r="12.4" fill="#FF0000"/>
<circle cx="235.2" cy="368.0" r="12.4" fill="#FF0000"/>
<circle cx="238.5" cy="330.5" r="12.4" fill="#FF0000"/>
<circle cx="242.9" cy="303.8" r="12.4" fill="#FF0000"/>
<circle cx="249.9" cy="279.5" r="12.4" fill="#FF0000"/>
<circle cx="265.0" cy="246.7" r="12.4" fill="#FF0000"/>
<circle cx="276.5" cy="229.5" r="12.4" fill="#FF0000"/>
<circle cx="306.4" cy="206.5" r="12.4" fill="#FF0000"/>
<circle cx="312.8" cy="202.2" r="12.4" fill="#FF0000"/>
<circle cx="338.5" cy="190.4" r="12.4" fill="#FF0000"/>
<circle cx="345.7" cy="188.2" r="12.4" fill="#FF0000"/>
<circle cx="390.2" cy="178.3" r="12.4" fill="#FF0000"/>
<circle cx="407.5" cy="174.8" r="12.4" fill="#FF0000"/>
<circle cx="443.3" cy="169.6" r="12.4" fill="#FF0000"/>
<circle cx="457.3" cy="167.6" r="12.4" fill="#FF0000"/>
<circle cx="497.7" cy="164.4" r="12.4" fill="#FF0000"/>
<circle cx="512.9" cy="161.9" r="12.4" fill="#FF0000"/>
<circle cx="552.0" cy="159.6" r="12.4" fill="#FF0000"/>
<circle cx="569.4" cy="157.2" r="12.4" fill="#FF0000"/>
<circle cx="607.5" cy="155.4" r="12.4" fill="#FF0000"/>
<circle cx="625.6" cy="152.9" r="12.4" fill="#FF0000"/>
<circle cx="662.4" cy="152.6" r="12.4" fill="#FF0000"/>
<circle cx="681.7" cy="150.4" r="12.4" fill="#FF0000"/>
<circle cx="719.4" cy="149.8" r="12.4" fill="#FF0000"/>
<circle cx="736.6" cy="147.0" r="12.4" fill="#FF0000"/>
<circle cx="774.6" cy="143.3" r="12.4" fill="#FF0000"/>
<circle cx="793.1" cy="144.4" r="12.4" fill="#FF0000"/>
<circle cx="827.5" cy="138.0" r="12.4" fill="#FF0000"/>
<circle cx="848.4" cy="141.2" r="12.4" fill="#FF0000"/>
<circle cx="883.2" cy="136.4" r="12.4" fill="#FF0000"/>
<circle cx="904.1" cy="140.2" r="12.4" fill="#FF0000"/>
<circle cx="937.6" cy="134.8" r="12.4" fill="#FF0000"/>
<circle cx="959.6" cy="138.0" r="12.4" fill="#FF0000"/>
<circle cx="993.5" cy="132.6" r="12.4" fill="#FF0000"/>
<circle cx="1014.4" cy="135.9" r="12.4" fill="#FF0000"/>
<circle cx="1048.8" cy="130.1" r="12.4" fill="#FF0000"/>
<circle cx="1070.3" cy="134.4" r="12.4" fill="#FF0000"/>
<circle cx="1104.7" cy="128.3" r="12.4" fill="#FF0000"/>
<circle cx="1126.2" cy="132.6" r="12.4" fill="#FF0000"/>
<circle cx="1159.8" cy="125.6" r="12.4" fill="#FF0000"/>
<circle cx="1180.8" cy="129.4" r="12.4" fill="#FF0000"/>
<circle cx="1215.5" cy="123.9" r="12.4" fill="#FF0000"/>
<circle cx="1235.2" cy="127.1" r="12.4" fill="#FF0000"/>
<circle cx="1270.7" cy="121.5" r="12.4" fill="#FF0000"/>
<circle cx="1288.8" cy="120.0" r="12.4" fill="#FF0000"/>
<circle cx="1292.7" cy="120.0" r="12.4" fill="#FF0000"/>
<circle cx="1314.0" cy="118.4" r="12.4" fill="#FF0000"/>
<circle cx="1331.4" cy="109.7" r="12.4" fill="#FF0000"/>
<path d="M231.0 985.0L231.0 975.0L231.0 965.0L231.0 955.0L231.0 945.0L231.0 935.0L231.0 925.0L231.0 915.0L231.0 904.0L231.0 874.5L231.0 841.7L231.0 810.7L231.0 782.4L231.0 770.0L231.0 740.5L231.0 729.5L231.0 696.7L231.0 667.8L231.0 636.7L231.0 605.6L231.0 574.4L231.0 543.8L231.0 512.2L231.0 481.6L231.0 451.1L232.4 421.2L234.4 384.7L238.1 352.7L243.5 321.9L256.4 284.8L285.5 243.8L299.1 232.8L331.0 216.9L348.5 211.9L380.4 203.9L405.5 200.0L433.6 195.8L465.8 191.3L486.0 189.9L525.0 187.0L541.6 184.7L582.0 181.6L596.0 181.0L638.4 178.0L652.7 177.5L694.6 175.4L715.0 174.7L775.3 166.8L839.8 162.5L872.7 160.5L938.5 158.9L1005.4 156.9L1038.7 155.6L1104.3 152.6L1170.5 150.7L1203.6 149.6L1261.2 147.6L1293.0 146.0L1324.3 142.0L1336.9 127.9" fill="none" stroke="#000000" stroke-width="1"/>
<path d="M715.0 174.7L749.5 172.6L805.4 170.9L860.9 168.9L916.6 167.0L972.5 164.9L1027.3 162.7L1082.2 160.6L1138.0 158.9L1192.6 156.2L1245.4 152.3L1297.5 146.0L1324.3 142.0" fill="none" stroke="#000000" stroke-width="1"/>
<rect x="220.3" y="974.4" width="21.3" height="21.3" fill="#000000"/>
<rect x="220.3" y="964.4" width="21.3" height="21.3" fill="#000000"/>
<rect x="220.3" y="954.4" width="21.3" height="21.3" fill="#000000"/>
<rect x="220.3" y="944.4" width="21.3" height="21.3" fill="#000000"/>
<rect x="220.3" y="934.4" width="21.3" height="21.3" fill="#000000"/>
<rect x="220.3" y="924.4" width="21.3" height="21.3" fill="#000000"/>
<rect x="220.3" y="914.4" width="21.3" height="21.3" fill="#000000"/>
<rect x="220.3" y="904.4" width="21.3" height="21.3" fill="#000000"/>
<rect x="220.3" y="893.4" width="21.3" height="21.3" fill="#000000"/>
<rect x="220.3" y="863.9" width="21.3" height="21.3" fill="#000000"/>
<rect x="220.3" y="831.1" width="21.3" height="21.3" fill="#000000"/>
<rect x="220.3" y="800.1" width="21.3" height="21.3" fill="#000000"/>
<rect x="220.3" y="771.8" width="21.3" height="21.3" fill="#000000"/>
<rect x="220.3" y="759.4" width="21.3" height="21.3" fill="#000000"/>
<rect x="220.3" y="729.9" width="21.3" height="21.3" fill="#000000"/>
<rect x="220.3" y="718.9" width="21.3" height="21.3" fill="#000000"/>
<rect x="220.3" y="686.1" width="21.3" height="21.3" fill="#000000"/>
<rect x="220.3" y="657.1" width="21.3" height="21.3" fill="#000000"/>
<rect x="220.3" y="626.1" width="21.3" height="21.3" fill="#000000"/>
<rect x="220.3" y="595.0" width="21.3" height="21.3" fill="#000000"/>
<rect x="220.3" y="563.8" width="21.3" height="21.3" fill="#000000"/>
<rect x="220.3" y="533.1" width="21.3" height="21.3" fill="#000000"/>
<rect x="220.3" y="501.6" width="21.3" height="21.3" fill="#000000"/>
<rect x="220.3" y="471.0" width="21.3" height="21.3" fill="#000000"/>
<rect x="220.3" y="440.5" width="21.3" height="21.3" fill="#000000"/>
<rect x="221.8" y="410.6" width="21.3" height="21.3" fill="#000000"/>
<rect x="223.8" y="374.1" width="21.3" height="21.3" fill="#000000"/>
<rect x="227.4" y="342.1" width="21.3" height="21.3" fill="#000000"/>
<rect x="232.8" y="311.2" width="21.3" height="21.3" fill="#000000"/>
<rect x="245.7" y="274.2" width="21.3" height="21.3" fill="#000000"/>
<rect x="274.9" y="233.2" width="21.3" height="21.3" fill="#000000"/>
<rect x="288.5" y="222.2" width="21.3" height="21.3" fill="#000000"/>
<rect x="320.4" y="206.2" width="21.3" height="21.3" fill="#000000"/>
<rect x="337.9" y="201.2" width="21.3" height="21.3" fill="#000000"/>
<rect x="369.8" y="193.2" width="21.3" height="21.3" fill="#000000"/>
<rect x="394.9" y="189.3" width="21.3" height="21.3" fill="#000000"/>
<rect x="423.0" y="185.2" width="21.3" height="21.3" fill="#000000"/>
<rect x="455.2" y="180.7" width="21.3" height="21.3" fill="#000000"/>
<rect x="475.4" y="179.2" width="21.3" height="21.3" fill="#000000"/>
<rect x="514.4" y="176.3" width="21.3" height="21.3" fill="#000000"/>
<rect x="531.0" y="174.0" width="21.3" height="21.3" fill="#000000"/>
<rect x="571.4" y="170.9" width="21.3" height="21.3" fill="#000000"/>
<rect x="585.4" y="170.3" width="21.3" height="21.3" fill="#000000"/>
<rect x="627.8" y="167.3" width="21.3" height="21.3" fill="#000000"/>
<rect x="642.1" y="166.8" width="21.3" height="21.3" fill="#000000"/>
<rect x="684.0" y="164.8" width="21.3" height="21.3" fill="#000000"/>
<rect x="704.4" y="164.0" width="21.3" height="21.3" fill="#000000"/>
<rect x="738.9" y="161.9" width="21.3" height="21.3" fill="#000000"/>
<rect x="764.6" y="156.2" width="21.3" height="21.3" fill="#000000"/>
<rect x="794.8" y="160.2" width="21.3" height="21.3" fill="#000000"/>
<rect x="829.1" y="151.8" width="21.3" height="21.3" fill="#000000"/>
<rect x="850.2" y="158.2" width="21.3" height="21.3" fill="#000000"/>
<rect x="862.1" y="149.8" width="21.3" height="21.3" fill="#000000"/>
<rect x="906.0" y="156.3" width="21.3" height="21.3" fill="#000000"/>
<rect x="927.9" y="148.2" width="21.3" height="21.3" fill="#000000"/>
<rect x="961.9" y="154.2" width="21.3" height="21.3" fill="#000000"/>
<rect x="994.8" y="146.2" width="21.3" height="21.3" fill="#000000"/>
<rect x="1016.6" y="152.0" width="21.3" height="21.3" fill="#000000"/>
<rect x="1028.0" y="144.9" width="21.3" height="21.3" fill="#000000"/>
<rect x="1071.5" y="149.9" width="21.3" height="21.3" fill="#000000"/>
<rect x="1093.6" y="141.9" width="21.3" height="21.3" fill="#000000"/>
<rect x="1127.3" y="148.2" width="21.3" height="21.3" fill="#000000"/>
<rect x="1159.8" y="140.0" width="21.3" height="21.3" fill="#000000"/>
<rect x="1181.9" y="145.5" width="21.3" height="21.3" fill="#000000"/>
<rect x="1192.9" y="138.9" width="21.3" height="21.3" fill="#000000"/>
<rect x="1234.8" y="141.7" width="21.3" height="21.3" fill="#000000"/>
<rect x="1250.5" y="136.9" width="21.3" height="21.3" fill="#000000"/>
<rect x="1282.3" y="135.3" width="21.3" height="21.3" fill="#000000"/>
<rect x="1286.8" y="135.3" width="21.3" height="21.3" fill="#000000"/>
<rect x="1313.6" y="131.3" width="21.3" height="21.3" fill="#000000"/>
<rect x="1326.2" y="117.2" width="21.3" height="21.3" fill="#000000"/>
</g>
<g font-family="'Liberation Serif', serif" font-size="56" fill="#000">
<text transform="translate(174.3 1002) scale(0.978 1)" text-anchor="end">0</text>
<text transform="translate(174.3 812) scale(0.978 1)" text-anchor="end">70</text>
<text transform="translate(174.3 622) scale(0.978 1)" text-anchor="end">140</text>
<text transform="translate(174.3 432) scale(0.978 1)" text-anchor="end">210</text>
<text transform="translate(174.3 242) scale(0.978 1)" text-anchor="end">280</text>
<text transform="translate(174.3 52) scale(0.978 1)" text-anchor="end">350</text>
<text transform="translate(231.0 1059) scale(0.965 1)" text-anchor="middle">0.00</text>
<text transform="translate(507.5 1059) scale(0.965 1)" text-anchor="middle">0.25</text>
<text transform="translate(784.0 1059) scale(0.965 1)" text-anchor="middle">0.50</text>
<text transform="translate(1060.5 1059) scale(0.965 1)" text-anchor="middle">0.75</text>
<text transform="translate(1337.0 1059) scale(0.965 1)" text-anchor="middle">1.00</text>
</g>
<g transform="translate(69,510) rotate(-90)"><text font-family="'Liberation Serif', serif" font-size="68.3" fill="#000" text-anchor="middle" opacity="0.999">Volume adsorbed (cm<tspan font-size="35" dy="-22">3</tspan><tspan dy="22">/g STP)</tspan></text></g>
<g font-family="'Liberation Serif', serif" fill="#000"><text font-size="68" x="463" y="1181" textLength="452" lengthAdjust="spacingAndGlyphs">Relative pressure</text><path d="M961.5 1117C948 1126 937 1140 937 1158C937 1176 948 1190 961.5 1199.5L961 1198C951 1188 945.5 1174 945.5 1158C945.5 1142 951 1128 961 1118Z"/><path d="M961.5 1117C948 1126 937 1140 937 1158C937 1176 948 1190 961.5 1199.5L961 1198C951 1188 945.5 1174 945.5 1158C945.5 1142 951 1128 961 1118Z" transform="translate(2039 0) scale(-1 1)"/><text font-size="68" x="963" y="1181">P/P</text><text font-size="92" transform="translate(1055 1198) scale(0.5)">0</text></g>
<rect x="946.0" y="564.0" width="403.0" height="409.0" fill="#000"/>
<rect x="932.5" y="550.5" width="403.0" height="409.0" fill="#fff" stroke="#000" stroke-width="1.3"/>
<rect x="938" y="588" width="121" height="1" fill="#FF8000"/>
<g shape-rendering="crispEdges"><path d="M981.5 588.0L1006.5 573.8L1006.5 602.2Z" fill="#FF8000"/></g>
<text font-family="'Liberation Serif', serif" font-size="56" x="1071.5" y="608.0" textLength="256" lengthAdjust="spacingAndGlyphs">9.0-Ni-ACF</text>
<rect x="938" y="655" width="121" height="1" fill="#8000FF"/>
<g shape-rendering="crispEdges"><path d="M998.2 639.6L1012.7 654.6L998.2 669.6L983.7 654.6Z" fill="#8000FF"/></g>
<text font-family="'Liberation Serif', serif" font-size="56" x="1071.5" y="674.6" textLength="256" lengthAdjust="spacingAndGlyphs">5.0-Ni-ACF</text>
<rect x="938" y="721" width="121" height="1" fill="#00DD00"/>
<g shape-rendering="crispEdges"><path d="M984.0 712.9L1012.5 712.9L998.2 737.9Z" fill="#00DD00"/></g>
<text font-family="'Liberation Serif', serif" font-size="56" x="1071.5" y="741.2" textLength="256" lengthAdjust="spacingAndGlyphs">1.0-Ni-ACF</text>
<rect x="938" y="788" width="121" height="1" fill="#0000FF"/>
<g shape-rendering="crispEdges"><path d="M984.0 796.1L1012.5 796.1L998.2 771.1Z" fill="#0000FF"/></g>
<text font-family="'Liberation Serif', serif" font-size="56" x="1071.5" y="807.8" textLength="256" lengthAdjust="spacingAndGlyphs">0.5-Ni-ACF</text>
<rect x="938" y="854" width="121" height="1" fill="#FF0000"/>
<g shape-rendering="crispEdges"><circle cx="998.2" cy="854.4" r="12.4" fill="#FF0000"/></g>
<text font-family="'Liberation Serif', serif" font-size="56" x="1071.5" y="874.4" textLength="256" lengthAdjust="spacingAndGlyphs">0.1-Ni-ACF</text>
<rect x="938" y="921" width="121" height="1" fill="#000000"/>
<g shape-rendering="crispEdges"><rect x="987.6" y="910.4" width="21.3" height="21.3" fill="#000000"/></g>
<text font-family="'Liberation Serif', serif" font-size="56" x="1069.5" y="941.0" textLength="165" lengthAdjust="spacingAndGlyphs">Pi-ACF</text>
</svg></body></html>
